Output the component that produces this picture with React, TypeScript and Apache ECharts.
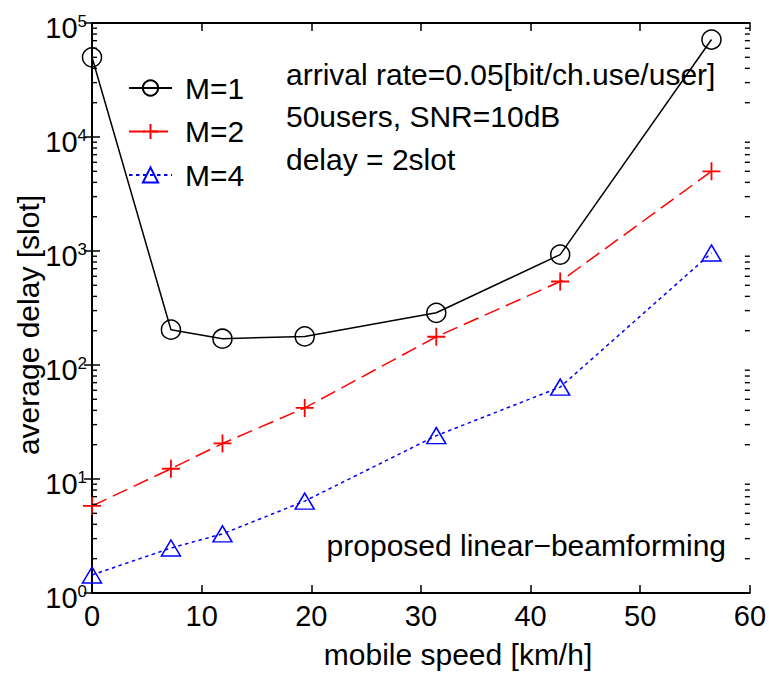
import React, { useEffect, useRef } from "react";
import * as echarts from "echarts";

const speeds = [0, 7.2, 11.9, 19.4, 31.4, 42.7, 56.5];
const delayM1 = [50000, 204, 170, 178, 287, 930, 71600];
const delayM2 = [5.8, 12.3, 20.5, 42, 177, 540, 5000];
const delayM4 = [1.44, 2.48, 3.3, 6.4, 24, 64, 960];
const seriesNames = ["M=1", "M=2", "M=4"];
const minorTickValues: number[] = [];
for (let e = 0; e < 5; e++) for (let m = 2; m <= 9; m++) minorTickValues.push(m * Math.pow(10, e));

const annotations = ["arrival rate=0.05[bit/ch.use/user]", "50users, SNR=10dB", "delay = 2slot"];
const footnote = "proposed linear\u2212beamforming";
const xName = "mobile speed [km/h]";
const yName = "average delay [slot]";

const FONT = "'Liberation Sans', Arial, Helvetica, sans-serif";

export default function App() {
  const ref = useRef<HTMLDivElement>(null);
  useEffect(() => {
    const chart = echarts.init(ref.current!, null, { renderer: "svg" });
    const pair = (ys: number[]) => speeds.map((x, i) => [x, ys[i]]);
    const minorData: number[][] = [];
    minorTickValues.forEach((v) => {
      minorData.push([0, v, 1]);
      minorData.push([60, v, -1]);
    });
    const option: any = {
      animation: false,
      backgroundColor: "#fff",
      textStyle: { fontFamily: FONT },
      grid: { left: 92, right: 19, top: 23, bottom: 83 },
      legend: {
        data: seriesNames,
        orient: "vertical",
        left: 123,
        top: 68,
        itemWidth: 43,
        itemHeight: 19,
        itemGap: 13.5,
        textStyle: { fontSize: 30, fontFamily: FONT, color: "#000", padding: [0, 0, 0, 8] },
      },
      xAxis: [
        {
          type: "value",
          min: 0,
          max: 60,
          interval: 10,
          axisLine: { lineStyle: { color: "#000", width: 2 } },
          axisTick: { inside: true, length: 8, lineStyle: { color: "#000", width: 1.5 } },
          axisLabel: { fontSize: 29, color: "#000", fontFamily: FONT, margin: 8 },
          splitLine: { show: false },
        },
        {
          type: "value",
          position: "top",
          min: 0,
          max: 60,
          interval: 10,
          axisLine: { show: true, lineStyle: { color: "#000", width: 2 } },
          axisTick: { inside: true, length: 8, lineStyle: { color: "#000", width: 1.5 } },
          axisLabel: { show: false },
          splitLine: { show: false },
        },
      ],
      yAxis: [
        {
          type: "log",
          logBase: 10,
          min: 1,
          max: 100000,
          axisLine: { show: true, lineStyle: { color: "#000", width: 2 } },
          axisTick: { show: true, inside: true, length: 8, lineStyle: { color: "#000", width: 1.5 } },
          axisLabel: {
            margin: 5,
            padding: [10, 0, 0, 0],
            formatter: (v: number) => `{b|10}{s|${Math.round(Math.log10(v))}}`,
            rich: {
              b: { fontSize: 29, fontFamily: FONT, color: "#000", lineHeight: 30 },
              s: { fontSize: 17, fontFamily: FONT, color: "#000", verticalAlign: "top", lineHeight: 15 },
            },
          },
          splitLine: { show: false },
        },
        {
          type: "log",
          logBase: 10,
          min: 1,
          max: 100000,
          position: "right",
          axisLine: { show: true, lineStyle: { color: "#000", width: 2 } },
          axisTick: { show: true, inside: true, length: 8, lineStyle: { color: "#000", width: 1.5 } },
          axisLabel: { show: false },
          splitLine: { show: false },
        },
      ],
      series: [
        {
          name: "minorTicks",
          type: "custom",
          silent: true,
          clip: false,
          data: minorData,
          renderItem: (params: any, api: any) => {
            const p = api.coord([api.value(0), api.value(1)]);
            const dir = api.value(2);
            return {
              type: "line",
              shape: { x1: p[0], y1: p[1], x2: p[0] + 5 * dir, y2: p[1] },
              style: { stroke: "#000", lineWidth: 1.4 },
            };
          },
          z: 10,
        },
        {
          name: "M=1",
          type: "line",
          data: pair(delayM1),
          clip: false,
          symbol: "circle",
          symbolSize: 19,
          lineStyle: { color: "#000", width: 1.5, type: "solid" },
          itemStyle: { color: "transparent", borderColor: "#000", borderWidth: 1.5 },
          z: 3,
        },
        {
          name: "M=2",
          type: "line",
          data: pair(delayM2),
          clip: false,
          symbol: "path://M10,0L10,20M0,10L20,10",
          symbolSize: 18,
          lineStyle: { color: "#ff0000", width: 1.5, type: [16, 7] },
          itemStyle: { color: "#ff0000", borderColor: "#ff0000", borderWidth: 1.8 },
          z: 3,
        },
        {
          name: "M=4",
          type: "line",
          data: pair(delayM4),
          clip: false,
          symbol: "triangle",
          symbolSize: [19, 16],
          lineStyle: { color: "#0000ff", width: 1.5, type: [3.5, 3.5] },
          itemStyle: { color: "transparent", borderColor: "#0000ff", borderWidth: 1.5 },
          z: 3,
        },
      ],
      graphic: [
        ...annotations.map((t, i) => ({
          type: "text",
          left: 286,
          top: [74.6, 116.6, 159.6][i] - 15,
          style: { text: t, fontSize: 30, fontFamily: FONT, fill: "#000" },
        })),
        {
          type: "text",
          right: 769 - 726,
          top: 545.6 - 15,
          style: { text: footnote, fontSize: 30, fontFamily: FONT, fill: "#000" },
        },
        {
          type: "text",
          x: 458,
          y: 654.6,
          style: { text: xName, fontSize: 30, fontFamily: FONT, fill: "#000", align: "center", verticalAlign: "middle" },
        },
        {
          type: "text",
          x: 28,
          y: 325,
          rotation: Math.PI / 2,
          style: { text: yName, fontSize: 30, fontFamily: FONT, fill: "#000", align: "center", verticalAlign: "middle" },
        },
      ],
    };
    chart.setOption(option);
    return () => chart.dispose();
  }, []);
  return <div ref={ref} style={{ position: "absolute", left: 0, top: 0, width: 769, height: 676 }} />;
}
